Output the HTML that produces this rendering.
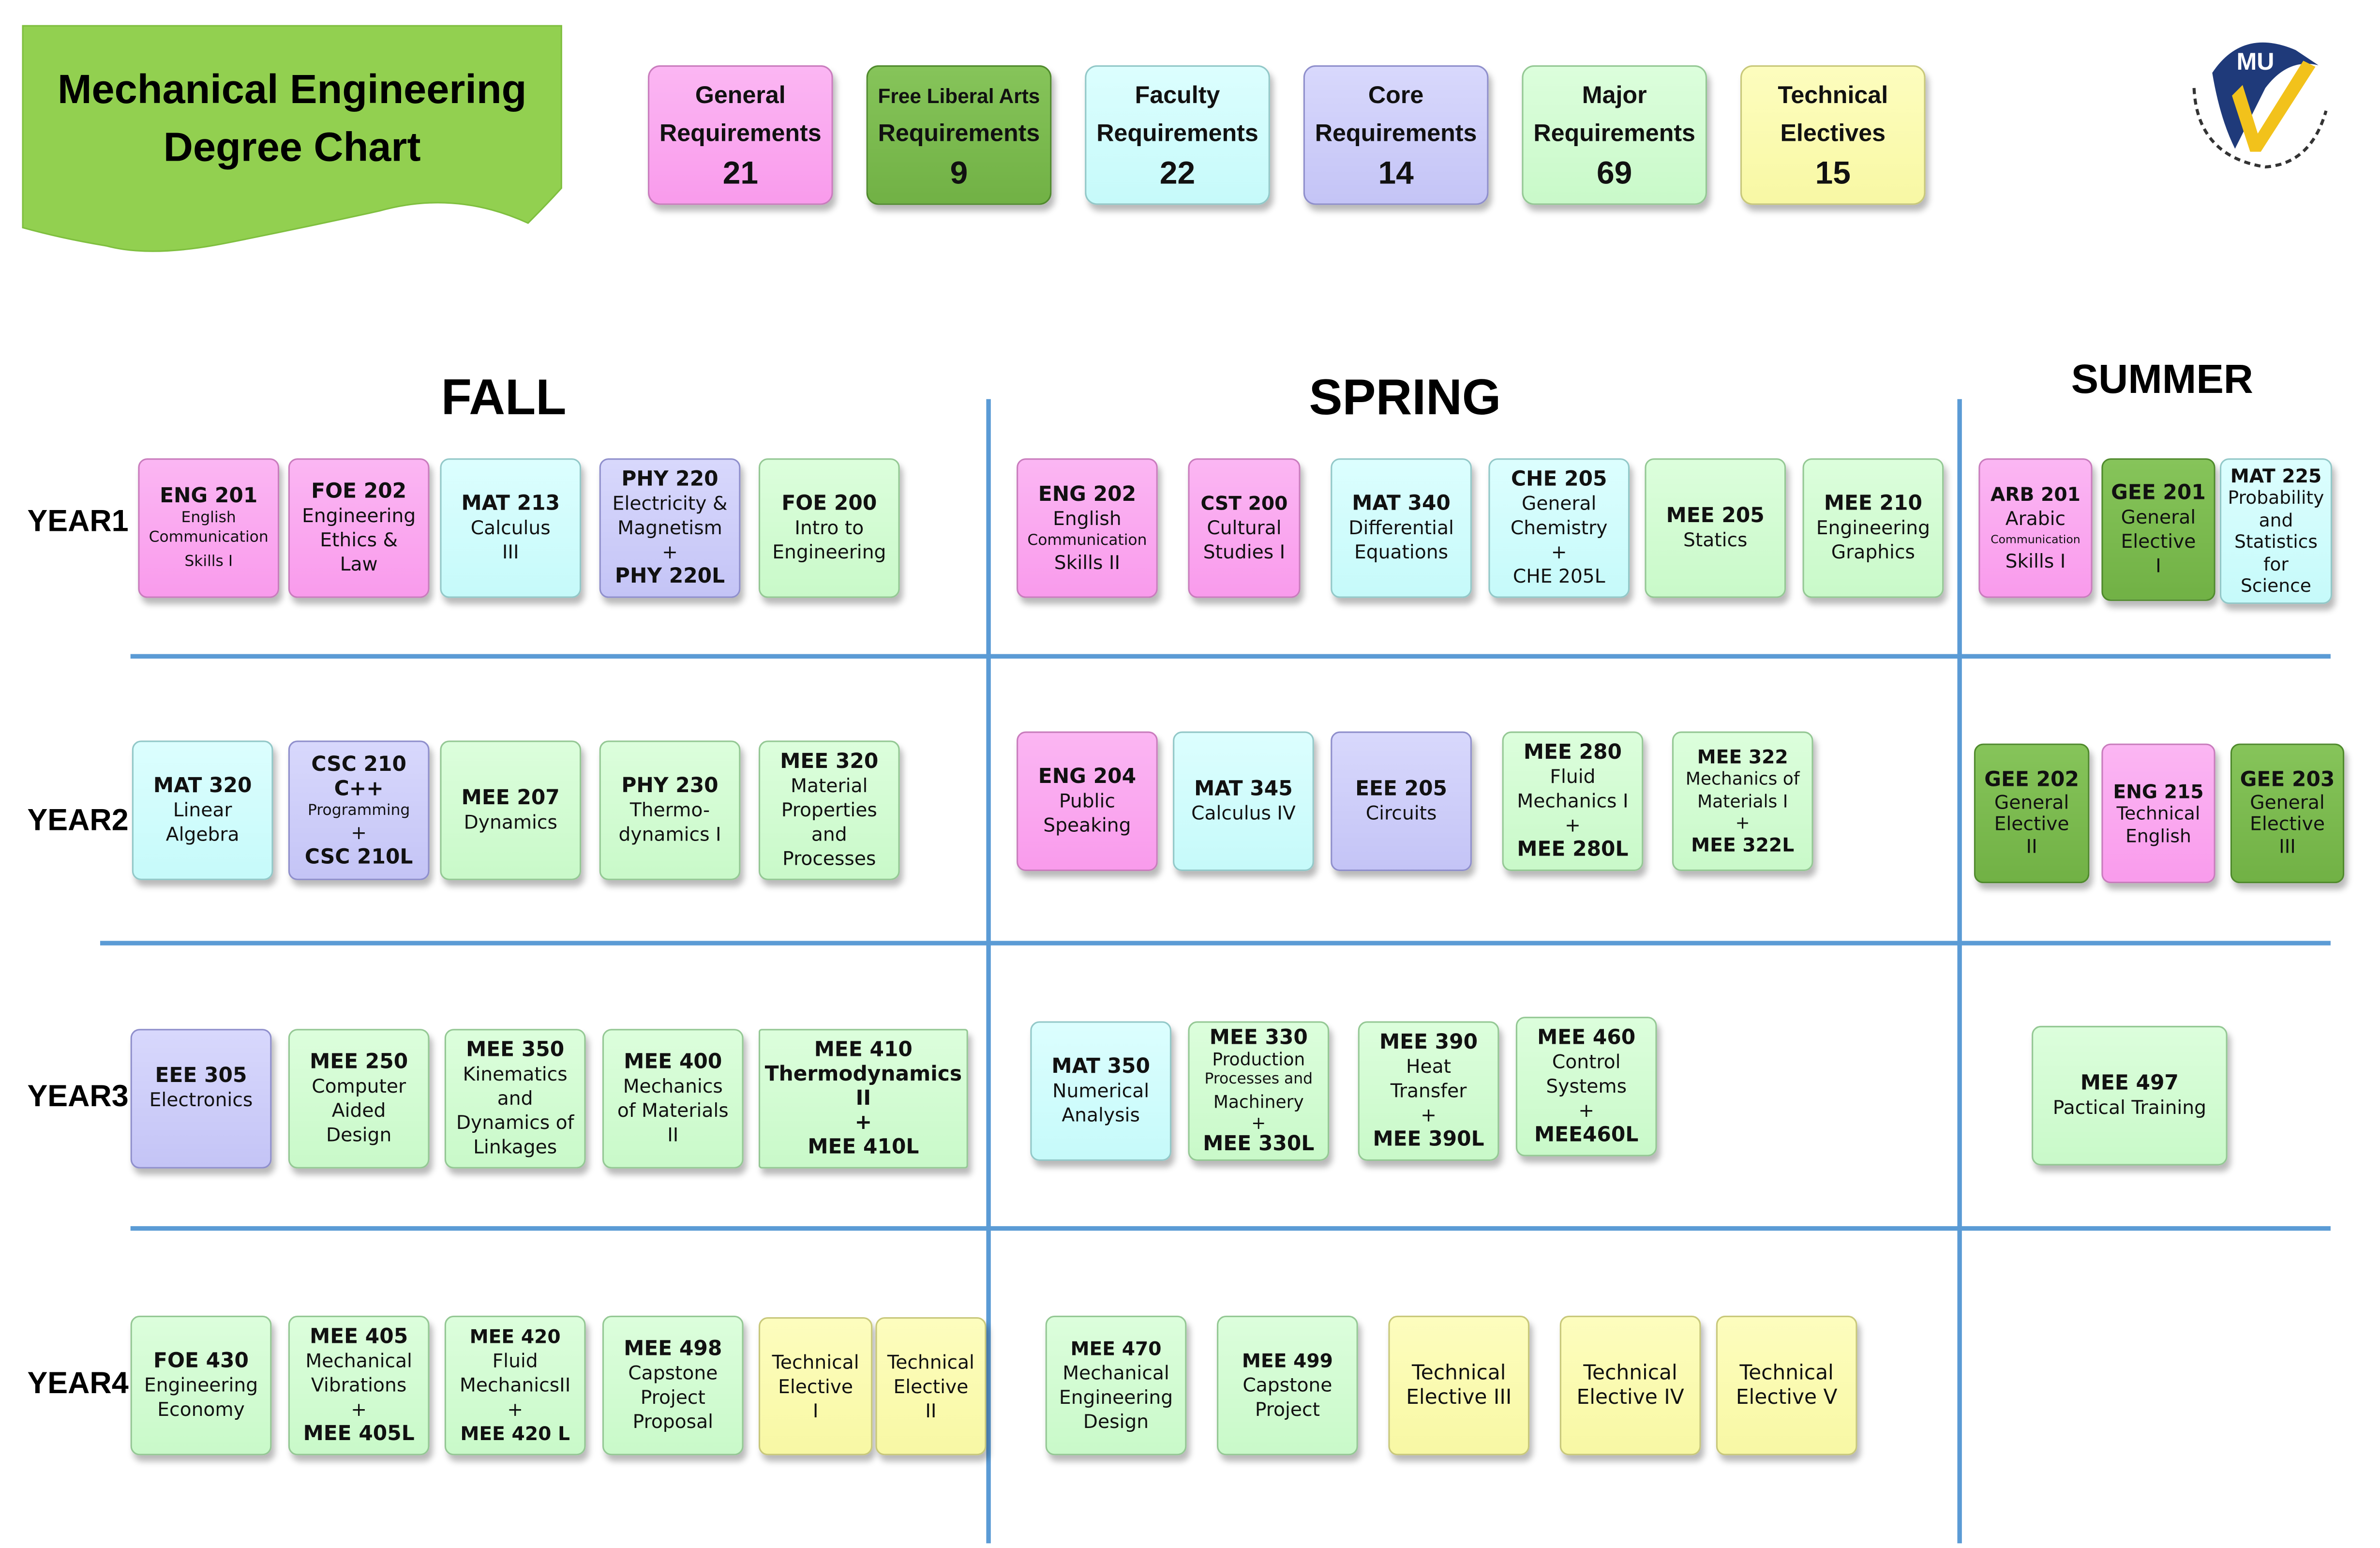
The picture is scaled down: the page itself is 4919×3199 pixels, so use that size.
<!DOCTYPE html>
<html><head><meta charset="utf-8"><style>
html,body{margin:0;padding:0;background:#fff;}
body{width:4919px;height:3198px;overflow:hidden;position:relative;}
#s{position:absolute;left:0;top:0;width:1568px;height:1020px;transform:scale(3.136);transform-origin:0 0;}
.b{position:absolute;box-sizing:border-box;border-radius:6px;display:flex;flex-direction:column;justify-content:center;align-items:center;text-align:center;font-family:"DejaVu Sans","Liberation Sans",sans-serif;font-size:12.5px;line-height:16px;color:#111;box-shadow:2px 4px 4px rgba(0,0,0,.28);white-space:nowrap;}
.b b{font-size:13.5px;}
.pk{background:linear-gradient(#fbb6f3,#f99bec);border:1px solid #c97cbd;}
.dg{background:linear-gradient(#86c45a,#71b145);border:1px solid #4f8a2c;}
.cy{background:linear-gradient(#dcfefe,#c6fafa);border:1px solid #92c8c8;}
.lv{background:linear-gradient(#d8d8fc,#c4c4f6);border:1px solid #8f8fcc;}
.lg{background:linear-gradient(#dcfedc,#c9f9c9);border:1px solid #94c894;}
.yl{background:linear-gradient(#fdfdbe,#f8f8a4);border:1px solid #c8c87a;}
.sm{font-size:10px;line-height:13px;}
.lgd{font-family:"Liberation Sans",sans-serif;font-weight:bold;font-size:16px;line-height:25px;border-radius:8px;}
.lgd .n{font-size:21px;line-height:27px;}
.t{position:absolute;font-family:"Liberation Sans",sans-serif;font-weight:bold;color:#000;}
.yr{position:absolute;left:18px;font-family:"Liberation Sans",sans-serif;font-weight:bold;font-size:20px;}
.hl{position:absolute;height:3px;background:#5b9bd5;}
.vl{position:absolute;width:3px;background:#5b9bd5;}
</style></head><body><div id="s">
<svg style="position:absolute;left:0;top:0" width="400" height="180">
<path d="M15,17 L370,17 L370,124 Q360,135 348,147 Q300,125 250,139 Q200,150 150,160 Q100,170 70,162 Q40,157 15,150 Z" fill="#92d050" stroke="#7fbf3f" stroke-width="1"/>
</svg>
<div class="t" style="left:15px;top:40px;width:355px;text-align:center;font-size:27px;line-height:38px;">Mechanical Engineering<br>Degree Chart</div>

<div class="b pk lgd" style="left:427px;top:43px;width:122px;height:92px;">General<br>Requirements<br><span class="n">21</span></div>
<div class="b dg lgd" style="left:571px;top:43px;width:122px;height:92px;"><span style="font-size:13.5px">Free Liberal Arts</span>Requirements<br><span class="n">9</span></div>
<div class="b cy lgd" style="left:715px;top:43px;width:122px;height:92px;">Faculty<br>Requirements<br><span class="n">22</span></div>
<div class="b lv lgd" style="left:859px;top:43px;width:122px;height:92px;">Core<br>Requirements<br><span class="n">14</span></div>
<div class="b lg lgd" style="left:1003px;top:43px;width:122px;height:92px;">Major<br>Requirements<br><span class="n">69</span></div>
<div class="b yl lgd" style="left:1147px;top:43px;width:122px;height:92px;">Technical<br>Electives<br><span class="n">15</span></div>

<svg style="position:absolute;left:1438px;top:18px" width="100" height="100" viewBox="0 0 100 100">
<path d="M20,30 Q40,0 75,15 L90,25 Q70,20 55,40 L35,80 Q25,60 20,30Z" fill="#1f3a7a"/>
<path d="M40,38 L50,70 L80,22 L88,26 L52,82 L45,82 L33,45Z" fill="#f2c21b"/>
<text x="36" y="28" font-family="Liberation Sans" font-weight="bold" font-size="16" fill="#fff">MU</text>
<path d="M8,40 Q10,85 55,92 Q85,90 95,55" fill="none" stroke="#333" stroke-width="2" stroke-dasharray="4 3"/>
</svg>

<div class="t" style="left:232px;top:243px;width:200px;text-align:center;font-size:33px;">FALL</div>
<div class="t" style="left:826px;top:243px;width:200px;text-align:center;font-size:33px;">SPRING</div>
<div class="t" style="left:1325px;top:235px;width:200px;text-align:center;font-size:27px;">SUMMER</div>

<div class="vl" style="left:650px;top:263px;height:754px;"></div>
<div class="vl" style="left:1290px;top:263px;height:754px;"></div>
<div class="hl" style="left:86px;top:431px;width:1450px;"></div>
<div class="hl" style="left:66px;top:620px;width:1470px;"></div>
<div class="hl" style="left:86px;top:808px;width:1450px;"></div>

<div class="yr" style="top:333px">YEAR1</div>
<div class="yr" style="top:530px">YEAR2</div>
<div class="yr" style="top:712px">YEAR3</div>
<div class="yr" style="top:901px">YEAR4</div>

<!-- Row 1 -->
<div class="b pk" style="left:91px;top:302px;width:93px;height:92px;"><b>ENG 201</b><span class="sm">English<br>Communication</span><span class="sm" style="margin-top:3px">Skills I</span></div>
<div class="b pk" style="left:190px;top:302px;width:93px;height:92px;"><b>FOE 202</b>Engineering<br>Ethics &amp;<br>Law</div>
<div class="b cy" style="left:290px;top:302px;width:93px;height:92px;"><b>MAT 213</b>Calculus<br>III</div>
<div class="b lv" style="left:395px;top:302px;width:93px;height:92px;"><b>PHY 220</b>Electricity &amp;<br>Magnetism<br>+<br><b>PHY 220L</b></div>
<div class="b lg" style="left:500px;top:302px;width:93px;height:92px;"><b>FOE 200</b>Intro to<br>Engineering</div>
<div class="b pk" style="left:670px;top:302px;width:93px;height:92px;"><b>ENG 202</b>English<br><span class="sm">Communication</span>Skills II</div>
<div class="b pk" style="left:783px;top:302px;width:74px;height:92px;"><b style="font-size:12.5px">CST 200</b>Cultural<br>Studies I</div>
<div class="b cy" style="left:877px;top:302px;width:93px;height:92px;"><b>MAT 340</b>Differential<br>Equations</div>
<div class="b cy" style="left:981px;top:302px;width:93px;height:92px;"><b>CHE 205</b>General<br>Chemistry<br>+<br>CHE 205L</div>
<div class="b lg" style="left:1084px;top:302px;width:93px;height:92px;"><b>MEE 205</b>Statics</div>
<div class="b lg" style="left:1188px;top:302px;width:93px;height:92px;"><b>MEE 210</b>Engineering<br>Graphics</div>
<div class="b pk" style="left:1304px;top:302px;width:75px;height:92px;"><b style="font-size:12.5px">ARB 201</b>Arabic<br><span style="font-size:7.5px;line-height:12px">Communication</span>Skills I</div>
<div class="b dg" style="left:1385px;top:302px;width:75px;height:94px;"><b>GEE 201</b>General<br>Elective<br>I</div>
<div class="b cy" style="left:1463px;top:302px;width:74px;height:96px;font-size:12px;line-height:14.5px;"><b style="font-size:12.5px">MAT 225</b>Probability<br>and<br>Statistics<br>for<br>Science</div>

<!-- Row 2 -->
<div class="b cy" style="left:87px;top:488px;width:93px;height:92px;"><b>MAT 320</b>Linear<br>Algebra</div>
<div class="b lv" style="left:190px;top:488px;width:93px;height:92px;"><b>CSC 210</b><b>C++</b><span class="sm">Programming</span>+<br><b>CSC 210L</b></div>
<div class="b lg" style="left:290px;top:488px;width:93px;height:92px;"><b>MEE 207</b>Dynamics</div>
<div class="b lg" style="left:395px;top:488px;width:93px;height:92px;"><b>PHY 230</b>Thermo-<br>dynamics I</div>
<div class="b lg" style="left:500px;top:488px;width:93px;height:92px;"><b>MEE 320</b>Material<br>Properties<br>and<br>Processes</div>
<div class="b pk" style="left:670px;top:482px;width:93px;height:92px;"><b>ENG 204</b>Public<br>Speaking</div>
<div class="b cy" style="left:773px;top:482px;width:93px;height:92px;"><b>MAT 345</b>Calculus IV</div>
<div class="b lv" style="left:877px;top:482px;width:93px;height:92px;"><b>EEE 205</b>Circuits</div>
<div class="b lg" style="left:990px;top:482px;width:93px;height:92px;"><b>MEE 280</b>Fluid<br>Mechanics I<br>+<br><b>MEE 280L</b></div>
<div class="b lg" style="left:1102px;top:482px;width:93px;height:92px;font-size:11.5px;line-height:14.5px"><b style="font-size:12.5px">MEE 322</b>Mechanics of<br>Materials I<br>+<br><b style="font-size:12.5px">MEE 322L</b></div>
<div class="b dg" style="left:1301px;top:490px;width:76px;height:92px;font-size:12.5px;line-height:14.5px"><b>GEE 202</b>General<br>Elective<br>II</div>
<div class="b pk" style="left:1385px;top:490px;width:75px;height:92px;font-size:12px;line-height:15px"><b style="font-size:12.5px">ENG 215</b>Technical<br>English</div>
<div class="b dg" style="left:1470px;top:490px;width:75px;height:92px;font-size:12.5px;line-height:14.5px"><b>GEE 203</b>General<br>Elective<br>III</div>

<!-- Row 3 -->
<div class="b lv" style="left:86px;top:678px;width:93px;height:92px;justify-content:flex-start;padding-top:22px;"><b>EEE 305</b>Electronics</div>
<div class="b lg" style="left:190px;top:678px;width:93px;height:92px;"><b>MEE 250</b>Computer<br>Aided<br>Design</div>
<div class="b lg" style="left:293px;top:678px;width:93px;height:92px;"><b>MEE 350</b>Kinematics<br>and<br>Dynamics of<br>Linkages</div>
<div class="b lg" style="left:397px;top:678px;width:93px;height:92px;"><b>MEE 400</b>Mechanics<br>of Materials<br>II</div>
<div class="b lg" style="left:500px;top:678px;width:138px;height:92px;border-radius:2px;font-weight:bold"><b>MEE 410</b><b>Thermodynamics</b><b>II</b><b>+</b><b>MEE 410L</b></div>
<div class="b cy" style="left:679px;top:673px;width:93px;height:92px;"><b>MAT 350</b>Numerical<br>Analysis</div>
<div class="b lg" style="left:783px;top:673px;width:93px;height:92px;font-size:11.5px;line-height:14px"><b>MEE 330</b>Production<br><span style="font-size:10px">Processes and</span>Machinery<br>+<br><b>MEE 330L</b></div>
<div class="b lg" style="left:895px;top:673px;width:93px;height:92px;"><b>MEE 390</b>Heat<br>Transfer<br>+<br><b>MEE 390L</b></div>
<div class="b lg" style="left:999px;top:670px;width:93px;height:92px;"><b>MEE 460</b>Control<br>Systems<br>+<br><b>MEE460L</b></div>
<div class="b lg" style="left:1339px;top:676px;width:129px;height:92px;"><b>MEE 497</b>Pactical Training</div>

<!-- Row 4 -->
<div class="b lg" style="left:86px;top:867px;width:93px;height:92px;"><b>FOE 430</b>Engineering<br>Economy</div>
<div class="b lg" style="left:190px;top:867px;width:93px;height:92px;"><b>MEE 405</b>Mechanical<br>Vibrations<br>+<br><b>MEE 405L</b></div>
<div class="b lg" style="left:293px;top:867px;width:93px;height:92px;"><b style="font-size:12.5px">MEE 420</b>Fluid<br>MechanicsII<br>+<br><b style="font-size:12.5px">MEE 420 L</b></div>
<div class="b lg" style="left:397px;top:867px;width:93px;height:92px;"><b>MEE 498</b>Capstone<br>Project<br>Proposal</div>
<div class="b yl" style="left:500px;top:868px;width:75px;height:91px;">Technical<br>Elective<br>I</div>
<div class="b yl" style="left:577px;top:868px;width:73px;height:91px;">Technical<br>Elective<br>II</div>
<div class="b lg" style="left:689px;top:867px;width:93px;height:92px;"><b style="font-size:12.5px">MEE 470</b>Mechanical<br>Engineering<br>Design</div>
<div class="b lg" style="left:802px;top:867px;width:93px;height:92px;"><b style="font-size:12.5px">MEE 499</b>Capstone<br>Project</div>
<div class="b yl" style="left:915px;top:867px;width:93px;height:92px;font-size:13.5px">Technical<br>Elective III</div>
<div class="b yl" style="left:1028px;top:867px;width:93px;height:92px;font-size:13.5px">Technical<br>Elective IV</div>
<div class="b yl" style="left:1131px;top:867px;width:93px;height:92px;font-size:13.5px">Technical<br>Elective V</div>
</div></body></html>
